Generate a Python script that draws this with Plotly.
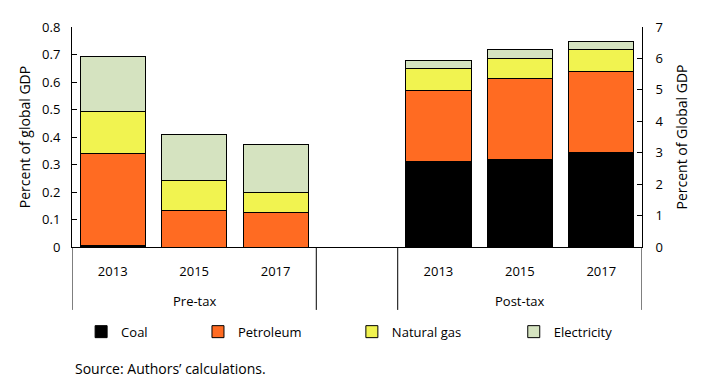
import plotly.graph_objects as go

years = ["2013", "2015", "2017"]
groups = ["Pre-tax", "Post-tax"]
series = ["Coal", "Petroleum", "Natural gas", "Electricity"]
colors = ["#000000", "#FF6B22", "#F1F350", "#D5E3C0"]

pre_tax = {
    "Coal": [0.005, 0.0, 0.0],
    "Petroleum": [0.334, 0.133, 0.127],
    "Natural gas": [0.154, 0.109, 0.071],
    "Electricity": [0.198, 0.167, 0.174],
}
post_tax = {
    "Coal": [2.73, 2.79, 3.01],
    "Petroleum": [2.25, 2.56, 2.59],
    "Natural gas": [0.69, 0.64, 0.67],
    "Electricity": [0.25, 0.29, 0.26],
}

FONT = "Open Sans"
fig = go.Figure()

cats_pre = [f"{groups[0]} {y}" for y in years]
cats_post = [f"{groups[1]} {y}" for y in years]
gap = " "
cat_order = cats_pre + [gap] + cats_post
tick_text = years + [""] + years

legend_names = ["legend", "legend2", "legend3", "legend4"]

for i, s in enumerate(series):
    fig.add_trace(go.Bar(
        x=cats_pre, y=pre_tax[s], name=s, yaxis="y",
        marker=dict(color=colors[i], line=dict(color="black", width=1)),
        legend=legend_names[i], showlegend=True,
    ))

for i, s in enumerate(series):
    fig.add_trace(go.Bar(
        x=cats_post, y=post_tax[s], name=s, yaxis="y2",
        marker=dict(color=colors[i], line=dict(color="black", width=1)),
        legend=legend_names[i], showlegend=False,
    ))

# group dividers and group labels below the category axis
divider_pos = [-0.5, len(cats_pre) - 0.5, len(cats_pre) + 0.5, len(cat_order) - 0.5]
shapes = [dict(type="line", xref="x", yref="paper", x0=p, x1=p, y0=0, y1=-0.286,
               line=dict(color="black", width=1)) for p in divider_pos]

annotations = [
    dict(text=groups[0], xref="x", yref="paper", x=cats_pre[1], y=-0.245,
         xanchor="center", yanchor="middle", showarrow=False,
         font=dict(family=FONT, size=13, color="black")),
    dict(text=groups[1], xref="x", yref="paper", x=cats_post[1], y=-0.245,
         xanchor="center", yanchor="middle", showarrow=False,
         font=dict(family=FONT, size=13, color="black")),
    dict(text="Source: Authors\u2019 calculations.", xref="paper", yref="paper",
         x=0.002, y=-0.55, xanchor="left", yanchor="middle", showarrow=False,
         font=dict(family=FONT, size=14, color="black")),
]

leg_common = dict(orientation="h", xanchor="left", yanchor="middle",
                  font=dict(family=FONT, size=13, color="black"),
                  bgcolor="rgba(0,0,0,0)", y=-0.385)
leg_x = [0.016, 0.221, 0.491, 0.775]

# the page adds an 8px body margin, so the figure is sized to fit the window
fig.update_layout(
    width=699, height=383,
    margin=dict(l=64, r=65, t=19, b=144),
    paper_bgcolor="white", plot_bgcolor="white",
    barmode="stack", bargap=0.2,
    font=dict(family=FONT, size=13, color="black"),
    xaxis=dict(type="category", categoryorder="array", categoryarray=cat_order,
               range=[-0.5, len(cat_order) - 0.5],
               tickvals=cat_order, ticktext=tick_text,
               showline=True, linecolor="black", linewidth=1, automargin=False,
               ticks="", ticklabelstandoff=12, showgrid=False,
               tickfont=dict(family=FONT, size=13, color="black")),
    yaxis=dict(range=[0, 0.8], dtick=0.1, ticks="inside", ticklen=5, tickcolor="black",
               showline=True, linecolor="black", linewidth=1, showgrid=False, zeroline=False,
               ticklabelstandoff=8, automargin=False,
               title=dict(text="Percent of global GDP", font=dict(family=FONT, size=14), standoff=8),
               tickfont=dict(family=FONT, size=13, color="black")),
    yaxis2=dict(range=[0, 7], dtick=1, ticks="inside", ticklen=5, tickcolor="black",
                overlaying="y", side="right",
                showline=True, linecolor="black", linewidth=1, showgrid=False, zeroline=False,
                ticklabelstandoff=10, automargin=False,
                title=dict(text="Percent of Global GDP", font=dict(family=FONT, size=14), standoff=14),
                tickfont=dict(family=FONT, size=13, color="black")),
    legend=dict(leg_common, x=leg_x[0]),
    legend2=dict(leg_common, x=leg_x[1]),
    legend3=dict(leg_common, x=leg_x[2]),
    legend4=dict(leg_common, x=leg_x[3]),
    shapes=shapes,
    annotations=annotations,
)

fig.write_html("out.html")
